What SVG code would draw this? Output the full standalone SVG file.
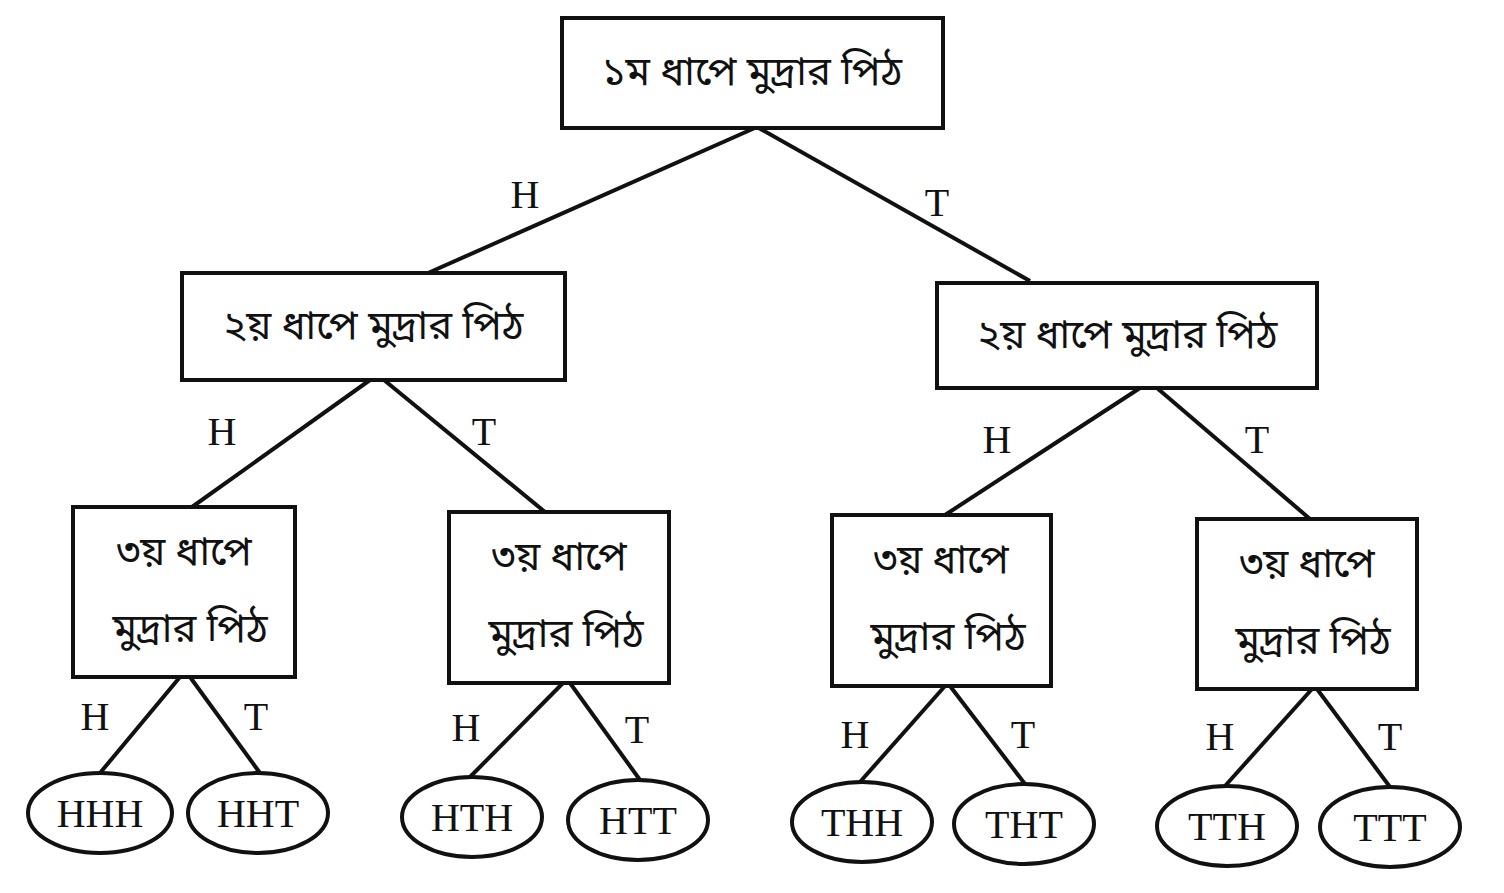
<svg xmlns="http://www.w3.org/2000/svg" width="1504" height="893" viewBox="0 0 1504 893">
<style>
.b{fill:#fff;stroke:#111;stroke-width:4}
.c line{stroke:#111;stroke-width:4}
.l{font-family:"Liberation Serif",serif;font-size:40px;fill:#111;text-anchor:middle}
.bn{font-family:"Noto Sans Bengali","Noto Serif Bengali","Lohit Bengali","Noto Sans",sans-serif;font-size:40px;fill:#111;text-anchor:middle}
</style>
<rect width="1504" height="893" fill="#fff"/>
<g class="c">
<line x1="757" y1="127" x2="428" y2="273"/><line x1="757" y1="127" x2="1030" y2="281"/>
<line x1="370" y1="380" x2="192" y2="507"/><line x1="384" y1="380" x2="545" y2="512"/>
<line x1="1140" y1="388" x2="945" y2="515"/><line x1="1157" y1="388" x2="1310" y2="519"/>
<line x1="180" y1="677" x2="100" y2="773"/><line x1="190" y1="677" x2="260" y2="773"/>
<line x1="563" y1="683" x2="470" y2="777"/><line x1="570" y1="683" x2="640" y2="780"/>
<line x1="945" y1="686" x2="860" y2="782"/><line x1="950" y1="686" x2="1025" y2="784"/>
<line x1="1312" y1="689" x2="1225" y2="786"/><line x1="1317" y1="689" x2="1390" y2="787"/>
</g>
<g class="l">
<text x="525" y="208">H</text><text x="937" y="216">T</text>
<text x="222" y="445">H</text><text x="484" y="445">T</text>
<text x="997" y="453">H</text><text x="1257" y="453">T</text>
<text x="95" y="730">H</text><text x="256" y="730">T</text>
<text x="466" y="741">H</text><text x="637" y="743">T</text>
<text x="855" y="748">H</text><text x="1023" y="748">T</text>
<text x="1220" y="750">H</text><text x="1390" y="750">T</text>
</g>
<g id="root"><rect class="b" x="562" y="18" width="381" height="110"/><text class="bn" x="752" y="85">১ম ধাপে মুদ্রার পিঠ</text></g>
<g id="l2a"><rect class="b" x="182" y="273" width="383" height="107"/><text class="bn" x="373" y="339">২য় ধাপে মুদ্রার পিঠ</text></g>
<g id="l2b"><rect class="b" x="937" y="283" width="380" height="105"/><text class="bn" x="1127" y="348">২য় ধাপে মুদ্রার পিঠ</text></g>
<g id="l3a"><rect class="b" x="73" y="507" width="222" height="170"/><text class="bn" x="184" y="565">৩য় ধাপে</text><text class="bn" x="190" y="642">মুদ্রার পিঠ</text></g>
<g id="l3b"><rect class="b" x="449" y="512" width="220" height="171"/><text class="bn" x="559" y="570">৩য় ধাপে</text><text class="bn" x="566" y="647">মুদ্রার পিঠ</text></g>
<g id="l3c"><rect class="b" x="832" y="515" width="219" height="171"/><text class="bn" x="941" y="573">৩য় ধাপে</text><text class="bn" x="948" y="650">মুদ্রার পিঠ</text></g>
<g id="l3d"><rect class="b" x="1197" y="519" width="220" height="170"/><text class="bn" x="1307" y="577">৩য় ধাপে</text><text class="bn" x="1313" y="654">মুদ্রার পিঠ</text></g>
<g id="HHH"><ellipse class="b" cx="100" cy="813" rx="72" ry="40"/><text class="l" x="100" y="827">HHH</text></g>
<g id="HHT"><ellipse class="b" cx="258" cy="813" rx="70" ry="40"/><text class="l" x="258" y="827">HHT</text></g>
<g id="HTH"><ellipse class="b" cx="472" cy="817" rx="70" ry="40"/><text class="l" x="472" y="831">HTH</text></g>
<g id="HTT"><ellipse class="b" cx="638" cy="820" rx="70" ry="40"/><text class="l" x="638" y="834">HTT</text></g>
<g id="THH"><ellipse class="b" cx="862" cy="822" rx="70" ry="40"/><text class="l" x="862" y="836">THH</text></g>
<g id="THT"><ellipse class="b" cx="1024" cy="824" rx="70" ry="40"/><text class="l" x="1024" y="838">THT</text></g>
<g id="TTH"><ellipse class="b" cx="1227" cy="826" rx="70" ry="40"/><text class="l" x="1227" y="840">TTH</text></g>
<g id="TTT"><ellipse class="b" cx="1390" cy="827" rx="70" ry="40"/><text class="l" x="1390" y="841">TTT</text></g>
</svg>
